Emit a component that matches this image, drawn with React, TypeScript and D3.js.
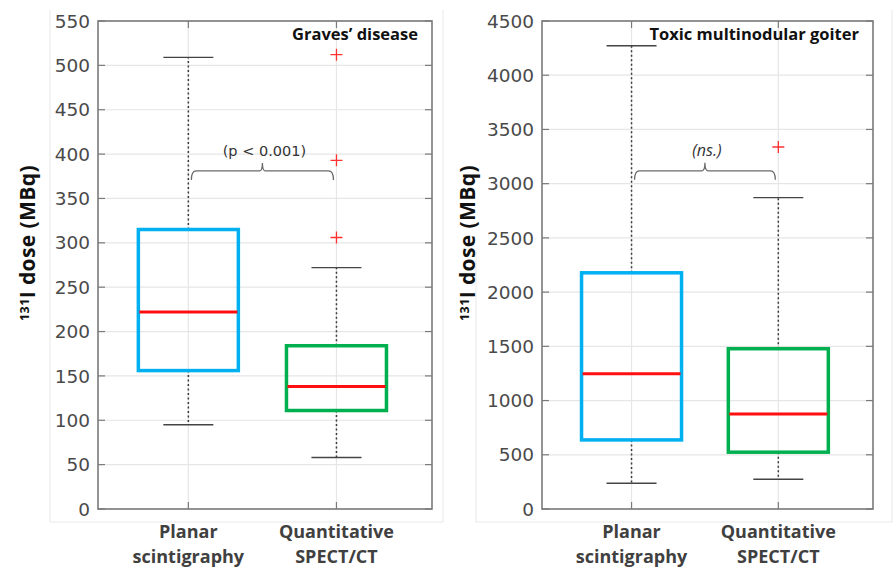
import React from "react";
import * as d3 from "d3";

// two groups, same in both panels
const groupLines = [
  ["Planar", "scintigraphy"],
  ["Quantitative", "SPECT/CT"],
];
const boxColors = ["#00b0f0", "#00b050"];

// stats: [lower whisker, q1, median, q3, upper whisker]
const gravesPlanar = [95, 156, 222, 315, 509];
const gravesSpect = [58, 111, 138, 184, 272];
const gravesOutliers = [[], [306, 393, 512]];
const gravesTicks = [0, 50, 100, 150, 200, 250, 300, 350, 400, 450, 500, 550];
const gravesBracket = 381;

const goiterPlanar = [237, 637, 1247, 2178, 4272];
const goiterSpect = [274, 524, 875, 1478, 2871];
const goiterOutliers = [[], [3338]];
const goiterTicks = [0, 500, 1000, 1500, 2000, 2500, 3000, 3500, 4000, 4500];
const goiterBracket = 3118;

type PanelProps = {
  x0: number;
  x1: number;
  stats: number[][];
  outliers: number[][];
  ticks: number[];
  bracket: number;
  note: string;
  italic: boolean;
  title: string;
  labelX: number;
  frame: [number, number, number];
};

const top = 21;
const bottom = 509;

const Panel = ({ x0, x1, stats, outliers, ticks, bracket, note, italic, title, labelX, frame }: PanelProps) => {
  const y = d3.scaleLinear().domain([0, d3.max(ticks)!]).range([bottom, top]);
  const x = d3.scaleLinear().domain([0.39, 2.645]).range([x0, x1]);
  const boxW = 100;
  const capW = 50;
  const cx = [x(1), x(2)];
  const by = y(bracket);

  const bracketPath = d3.path();
  const bl = cx[0] + 3, br = cx[1] - 3, bm = (bl + br) / 2;
  bracketPath.moveTo(bl, by + 9);
  bracketPath.quadraticCurveTo(bl, by, bl + 5, by);
  bracketPath.lineTo(bm - 3, by);
  bracketPath.quadraticCurveTo(bm, by, bm, by - 8);
  bracketPath.quadraticCurveTo(bm, by, bm + 3, by);
  bracketPath.lineTo(br - 5, by);
  bracketPath.quadraticCurveTo(br, by, br, by + 9);

  return (
    <g>
      {/* figure frame */}
      <path
        d={`M${frame[0]},${frame[2]}V522H${frame[1]}V10`}
        fill="none"
        stroke="#e8e8e8"
        strokeWidth={1}
      />
      {/* grid */}
      {ticks.map((t) => (
        <line key={"g" + t} x1={x0} x2={x1} y1={y(t)} y2={y(t)} stroke="#e6e6e6" strokeWidth={1.2} />
      ))}
      {cx.map((c, i) => (
        <line key={"v" + i} x1={c} x2={c} y1={top} y2={bottom} stroke="#e6e6e6" strokeWidth={1.2} />
      ))}
      {/* tick marks */}
      {ticks.map((t) => (
        <g key={"t" + t} stroke="#7a7a7a" strokeWidth={1.2}>
          <line x1={x0} x2={x0 + 7} y1={y(t)} y2={y(t)} />
          <line x1={x1 - 7} x2={x1} y1={y(t)} y2={y(t)} />
        </g>
      ))}
      {cx.map((c, i) => (
        <g key={"xt" + i} stroke="#7a7a7a" strokeWidth={1.2}>
          <line x1={c} x2={c} y1={bottom} y2={bottom - 7} />
          <line x1={c} x2={c} y1={top} y2={top + 7} />
        </g>
      ))}
      <rect x={x0} y={top} width={x1 - x0} height={bottom - top} fill="none" stroke="#7a7a7a" strokeWidth={1.6} />
      {/* tick labels */}
      {ticks.map((t) => (
        <text
          key={"l" + t}
          x={x0 - 8}
          y={y(t)}
          dy="0.36em"
          textAnchor="end"
          fontFamily="DejaVu Sans"
          fontSize={18.5}
          fill="#4a4a4a"
        >
          {t}
        </text>
      ))}
      {/* boxes */}
      {stats.map((s, i) => (
        <g key={"b" + i}>
          <line x1={cx[i]} x2={cx[i]} y1={y(s[3])} y2={y(s[4])} stroke="#3a3a3a" strokeWidth={1.5} strokeDasharray="2 2.5" />
          <line x1={cx[i]} x2={cx[i]} y1={y(s[1])} y2={y(s[0])} stroke="#3a3a3a" strokeWidth={1.5} strokeDasharray="2 2.5" />
          <line x1={cx[i] - capW / 2} x2={cx[i] + capW / 2} y1={y(s[4])} y2={y(s[4])} stroke="#444" strokeWidth={1.4} />
          <line x1={cx[i] - capW / 2} x2={cx[i] + capW / 2} y1={y(s[0])} y2={y(s[0])} stroke="#444" strokeWidth={1.4} />
          <rect
            x={cx[i] - boxW / 2}
            y={y(s[3])}
            width={boxW}
            height={y(s[1]) - y(s[3])}
            fill="none"
            stroke={boxColors[i]}
            strokeWidth={3.5}
          />
          <line x1={cx[i] - boxW / 2 + 1} x2={cx[i] + boxW / 2 - 1} y1={y(s[2])} y2={y(s[2])} stroke="#ff1010" strokeWidth={3} />
        </g>
      ))}
      {outliers.map((os, i) =>
        os.map((o) => (
          <path
            key={"o" + i + o}
            d={`M${cx[i] - 6},${y(o)}H${cx[i] + 6}M${cx[i]},${y(o) - 6}V${y(o) + 6}`}
            stroke="#ff3030"
            strokeWidth={1.3}
          />
        ))
      )}
      {/* significance bracket */}
      <path d={bracketPath.toString()} fill="none" stroke="#6a6a6a" strokeWidth={1.3} />
      <text
        x={bm + 2}
        y={by - 15}
        textAnchor="middle"
        fontFamily={italic ? "Open Sans" : "DejaVu Sans"}
        fontStyle={italic ? "italic" : "normal"}
        fontSize={italic ? 16 : 14.5}
        fill="#333"
      >
        {note}
      </text>
      <text
        x={x1 - 14}
        y={40}
        textAnchor="end"
        fontFamily="Open Sans"
        fontWeight="bold"
        fontSize={16.5}
        fill="#111"
      >
        {title}
      </text>
      {/* category labels */}
      {groupLines.map((lines, i) => (
        <text
          key={"c" + i}
          x={cx[i]}
          textAnchor="middle"
          fontFamily="Open Sans"
          fontWeight="bold"
          fontSize={18}
          fill="#404040"
        >
          <tspan x={cx[i]} y={538}>{lines[0]}</tspan>
          <tspan x={cx[i]} y={563}>{lines[1]}</tspan>
        </text>
      ))}
      <text
        transform={`translate(${labelX},243) rotate(-90)`}
        textAnchor="middle"
        fontFamily="Open Sans"
        fontWeight="bold"
        fontSize={21}
        letterSpacing={0.4}
        fill="#111"
      >
        <tspan fontSize={12.5} dy="-0.5em">131</tspan>
        <tspan dy="0.32em">I dose (MBq)</tspan>
      </text>
    </g>
  );
};

export default function App() {
  return (
    <svg
      width={893}
      height={572}
      style={{ position: "absolute", left: 0, top: 0, background: "#fff" }}
    >
      <Panel
        x0={98}
        x1={432}
        stats={[gravesPlanar, gravesSpect]}
        outliers={gravesOutliers}
        ticks={gravesTicks}
        bracket={gravesBracket}
        note="(p < 0.001)"
        italic={false}
        title="Graves’ disease"
        labelX={35}
        frame={[50, 443, 10]}
      />
      <Panel
        x0={542}
        x1={873}
        stats={[goiterPlanar, goiterSpect]}
        outliers={goiterOutliers}
        ticks={goiterTicks}
        bracket={goiterBracket}
        note="(ns.)"
        italic={true}
        title="Toxic multinodular goiter"
        labelX={475}
        frame={[476, 892, 250]}
      />
    </svg>
  );
}
